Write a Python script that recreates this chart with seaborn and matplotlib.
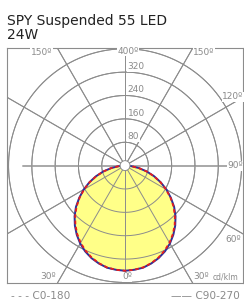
import numpy as np
import pandas as pd
import seaborn as sns
import matplotlib.pyplot as plt

# luminous intensity (cd/klm), 0 = straight down
angles = [0, 5, 10, 15, 20, 25, 30, 35, 40, 45, 50, 55, 60, 65, 70, 75, 80, 85, 90]
c0_180 = [360, 358, 354, 346, 335, 321, 305, 286, 265, 242, 217, 190, 162, 134, 105, 76, 48, 22, 0]
c90_270 = [360, 358, 355, 347, 337, 324, 308, 289, 268, 245, 220, 192, 164, 135, 106, 77, 48, 22, 0]

rings = [80, 160, 240, 320, 400]
ring_labels = ['80', '160', '240', '320']
spokes = [30, 60, 120, 150]

title = 'SPY Suspended 55 LED\n24W'


def to_xy(ang, vals):
    # mirror the half curve to both sides
    a = np.deg2rad(np.concatenate([-np.array(ang[::-1]), np.array(ang[1:])]))
    r = np.concatenate([np.array(vals[::-1]), np.array(vals[1:])])
    return pd.DataFrame({'x': r * np.sin(a), 'y': -r * np.cos(a)})


sns.set_style('white')
fig = plt.figure(figsize=(2.44, 3.05), dpi=100)
ax = fig.add_axes([0.029, 0.072, 0.967, 0.770])

grid = '#8c8c8c'
t = np.linspace(0, 2 * np.pi, 300)
for r in rings:
    ax.plot(r * np.cos(t), r * np.sin(t), color=grid, lw=0.7, zorder=1)
for s in spokes:
    a = np.deg2rad(s)
    for sg in (-1, 1):
        ax.plot([0, sg * 700 * np.sin(a)], [0, -700 * np.cos(a)], color=grid, lw=0.7, zorder=1)
ax.plot([0, 0], [-700, 700], color=grid, lw=0.7, zorder=1)
ax.plot([-352, 352], [0, 0], color='#a8a8a8', lw=1.4, zorder=1)

d90 = to_xy(angles, c90_270)
d0 = to_xy(angles, c0_180)
ax.fill(d90['x'], d90['y'], color='#ffff88', zorder=2)
# grid stays visible over the fill
for r in rings:
    ax.plot(r * np.cos(t), r * np.sin(t), color=grid, lw=0.7, zorder=3)
for s in spokes:
    a = np.deg2rad(s)
    for sg in (-1, 1):
        ax.plot([0, sg * 700 * np.sin(a)], [0, -700 * np.cos(a)], color=grid, lw=0.7, zorder=3)
ax.plot([0, 0], [-700, 0], color=grid, lw=0.7, zorder=3)

sns.lineplot(data=d90, x='x', y='y', sort=False, estimator=None, color='#2b2f9e', lw=1.4, ax=ax, zorder=4)
sns.lineplot(data=d0, x='x', y='y', sort=False, estimator=None, color='#e81d1d', lw=1.3,
             linestyle=(0, (2, 1.5)), ax=ax, zorder=5)

ax.add_patch(plt.Circle((0, 0), 17, facecolor='white', edgecolor=grid, lw=0.7, zorder=6))

lab = dict(color='#8a8a8a', fontsize=6.5, ha='center', va='center', zorder=7,
           bbox=dict(facecolor='white', edgecolor='none', pad=0.3))
ax.text(-287, 388, '150º', **lab)
ax.text(10, 391, '400º', **lab)
ax.text(270, 388, '150º', **lab)
ax.text(370, 236, '120º', **lab)
ax.text(378, 0, '90º', **lab)
ax.text(372, -253, '60º', **lab)
ax.text(-263, -380, '30º', **lab)
ax.text(7, -380, '0º', **lab)
ax.text(262, -380, '30º', **lab)
ax.text(345, -380, 'cd/klm', color='#8a8a8a', fontsize=5.5, ha='center', va='center', zorder=7)
for r, s in zip(rings, ring_labels):
    ax.text(9, r + 19, s, color='#8a8a8a', fontsize=6.5, ha='left', va='center', zorder=7,
            bbox=dict(facecolor='white', edgecolor='none', pad=0.3))

ax.set_xlim(-405, 405)
ax.set_ylim(-402, 402)
ax.set_xticks([])
ax.set_yticks([])
ax.set_xlabel('')
ax.set_ylabel('')
for sp in ax.spines.values():
    sp.set_color('#8c8c8c')
    sp.set_linewidth(0.8)

fig.text(0.029, 0.955, title, fontsize=10, va='top', ha='left', color='#222222', linespacing=1.05)
fig.text(0.045, 0.03, '- - - C0-180', fontsize=7.6, color='#8a8a8a', ha='left', va='center')
fig.text(0.985, 0.03, '—— C90-270', fontsize=7.6, color='#8a8a8a', ha='right', va='center')

fig.savefig('out.png', dpi=100)
